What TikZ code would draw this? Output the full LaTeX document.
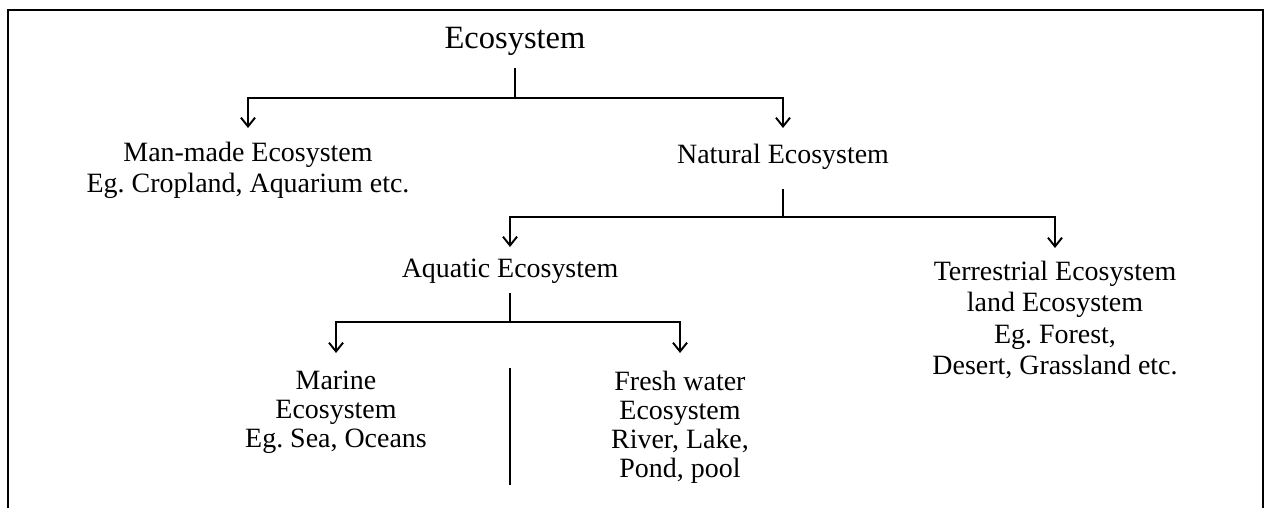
\documentclass[tikz,border=0pt]{standalone}
\usepackage{fontspec}
\setmainfont{Liberation Serif}
\usetikzlibrary{arrows.meta}
\frenchspacing
\begin{document}
\begin{tikzpicture}[>={Straight Barb[length=5pt,width=8pt]}, line width=1.1pt,
		box/.style={align=center, inner sep=0pt, anchor=north, font=\fontsize{15.9}{17.9}\selectfont},
		low/.style={box, font=\fontsize{15.9}{16.6}\selectfont},
		title/.style={inner sep=0pt, anchor=base, font=\fontsize{18.5}{20}\selectfont}]

		\useasboundingbox (0,0) rectangle (25.32,-10.16);
		\draw[line width=1.4pt] (0.16,-10.16) -- (0.16,-0.2) -- (25.26,-0.2) -- (25.26,-10.16);

		% labels
		\node[title] (eco) at (10.30,-0.96) {Ecosystem};
		\node[box] (manmade) at (4.96,-2.82) {Man-made Ecosystem\\Eg. Cropland, Aquarium etc.};
		\node[box] (natural) at (15.66,-2.86) {Natural Ecosystem};
		\node[box] (aquatic) at (10.20,-5.16) {Aquatic Ecosystem};
		\node[box] (terrestrial) at (21.10,-5.20) {Terrestrial Ecosystem\\land Ecosystem\\Eg. Forest,\\Desert, Grassland etc.};
		\node[low] (marine) at (6.72,-7.40) {Marine\\Ecosystem\\Eg. Sea, Oceans};
		\node[low] (fresh) at (13.60,-7.40) {Fresh water\\Ecosystem\\River, Lake,\\Pond, pool};

		\coordinate (j1) at (10.30,-1.96);
		\coordinate (j2) at (15.66,-4.34);
		\coordinate (j3) at (10.20,-6.44);
		\coordinate (s1) at (10.20,-7.36);
		\coordinate (s2) at (10.20,-9.70);

		% branches
		\draw[shorten <=0.24cm] (eco) -- (j1);
		\draw[->, shorten >=0.26cm] (j1) -| (manmade);
		\draw[->, shorten >=0.30cm] (j1) -| (natural);

		\draw[shorten <=0.38cm] (natural) -- (j2);
		\draw[->, shorten >=0.22cm] (j2) -| (aquatic);
		\draw[->, shorten >=0.24cm] (j2) -| (terrestrial);

		\draw[shorten <=0.18cm] (aquatic) -- (j3);
		\draw[->, shorten >=0.34cm] (j3) -| (marine);
		\draw[->, shorten >=0.34cm] (j3) -| (fresh);

		\draw (s1) -- (s2);

	\end{tikzpicture}
\end{document}
